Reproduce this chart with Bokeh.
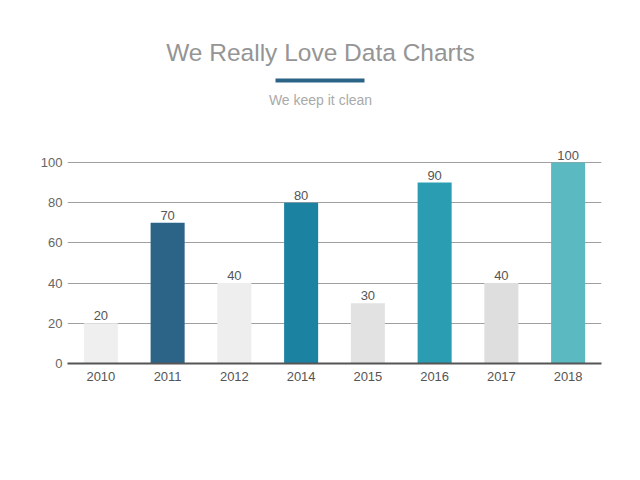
from bokeh.plotting import figure
from bokeh.models import ColumnDataSource, Label, LabelSet, BoxAnnotation, FixedTicker
from bokeh.core.properties import value
from bokeh.embed import file_html
from bokeh.resources import INLINE

years = ["2010", "2011", "2012", "2014", "2015", "2016", "2017", "2018"]
values = [20, 70, 40, 80, 30, 90, 40, 100]
colors = ["#efefef", "#2c6487", "#eeeeee", "#1b82a2", "#e2e2e2", "#2b9db2", "#dedede", "#5bb9c1"]
y_ticks = [0, 20, 40, 60, 80, 100]

FONT = "Liberation Sans"
TOP = 10          # frame top (canvas px)
BASE = 363        # frame bottom (canvas px)
LEFT = 67
PX_PER_UNIT = 2.01

src = ColumnDataSource(dict(x=years, top=values, color=colors, label=[str(v) for v in values]))

p = figure(width=640, height=480, x_range=years, y_range=(0, (BASE - TOP) / PX_PER_UNIT),
           output_backend="svg", toolbar_location=None,
           min_border_left=LEFT, min_border_right=39, min_border_top=TOP, min_border_bottom=480 - BASE)
p.outline_line_color = None
p.background_fill_color = "white"
p.border_fill_color = "white"

p.vbar(x="x", top="top", width=0.51, source=src, fill_color="color", line_color=None)

p.add_layout(LabelSet(x="x", y="top", text="label", source=src, text_align="center",
                      text_baseline="bottom", y_offset=3, text_font_size=value("13px"),
                      text_color=value("#555555"), text_font=value(FONT)))

p.xgrid.grid_line_color = None
p.ygrid.grid_line_color = "#a0a0a0"
p.ygrid.grid_line_width = 1
p.ygrid.ticker = FixedTicker(ticks=y_ticks)
p.yaxis.ticker = FixedTicker(ticks=y_ticks)
p.yaxis.axis_line_color = None
p.yaxis.major_tick_line_color = None
p.yaxis.minor_tick_line_color = None
p.yaxis.major_tick_out = 0
p.yaxis.major_label_standoff = 5
p.yaxis.major_label_text_font = FONT
p.yaxis.major_label_text_font_size = "13px"
p.yaxis.major_label_text_color = "#666666"

p.xaxis.axis_line_color = "#555555"
p.xaxis.axis_line_width = 2
p.xaxis.major_tick_line_color = None
p.xaxis.minor_tick_line_color = None
p.xaxis.major_tick_out = 0
p.xaxis.major_label_standoff = 8
p.xaxis.major_label_text_font = FONT
p.xaxis.major_label_text_font_size = "13px"
p.xaxis.major_label_text_color = "#555555"
p.x_range.range_padding = 0

# Titles (screen units relative to frame bottom-left)
cx = 320 - LEFT
p.add_layout(Label(x=cx, y=BASE - 52, x_units="screen", y_units="screen",
                   text="We Really Love Data Charts", text_align="center", text_baseline="middle",
                   text_font=FONT, text_font_size="24.5px", text_color="#959595"))
p.add_layout(Label(x=cx, y=BASE - 99, x_units="screen", y_units="screen",
                   text="We keep it clean", text_align="center", text_baseline="middle",
                   text_font=FONT, text_font_size="14px", text_color="#aaaaaa"))
p.add_layout(BoxAnnotation(left=275 - LEFT, right=364 - LEFT, bottom=BASE - 82, top=BASE - 78,
                           left_units="screen", right_units="screen",
                           bottom_units="screen", top_units="screen",
                           fill_color="#2c6487", fill_alpha=1, line_color=None))

open("out.html", "w").write(file_html(p, INLINE))
